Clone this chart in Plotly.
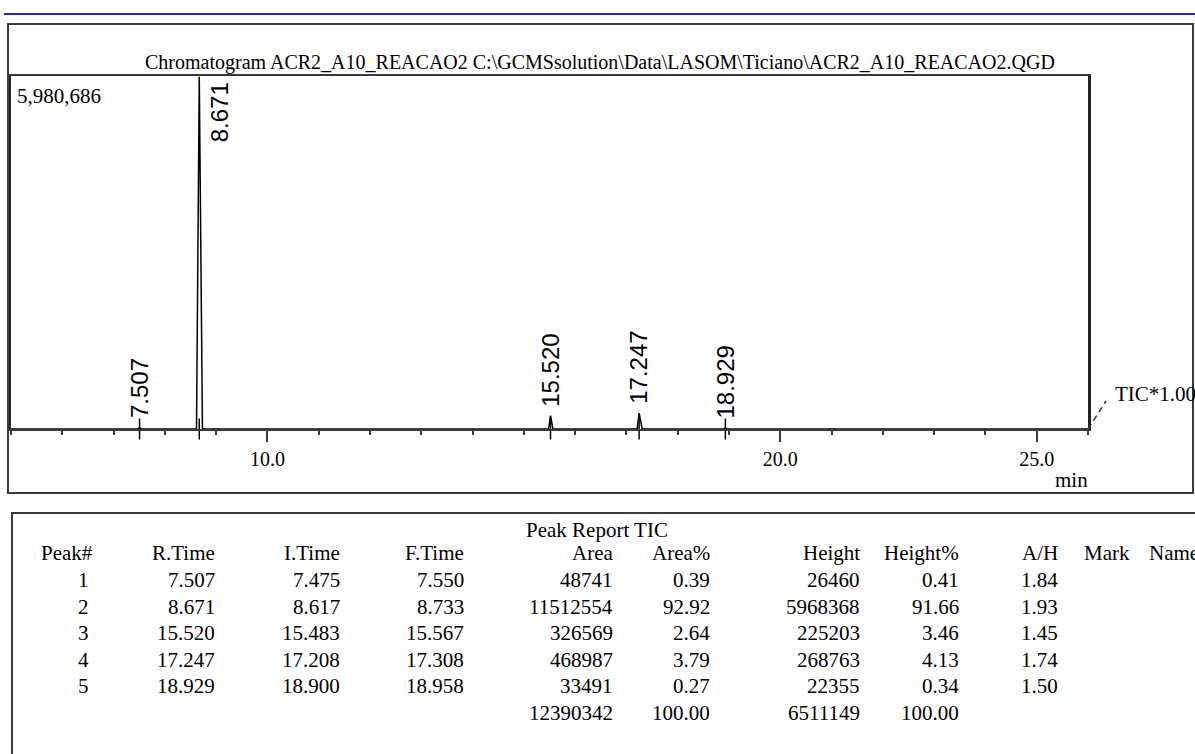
import plotly.graph_objects as go

# ---------------- data ----------------
chart_title = "Chromatogram ACR2_A10_REACAO2 C:\\GCMSsolution\\Data\\LASOM\\Ticiano\\ACR2_A10_REACAO2.QGD"
y_max = 5980686
x_start, x_end = 5.0, 26.0
major_ticks = [10.0, 20.0, 25.0]
major_tick_text = ["10.0", "20.0", "25.0"]

peak_no = [1, 2, 3, 4, 5]
r_time = [7.507, 8.671, 15.520, 17.247, 18.929]
i_time = [7.475, 8.617, 15.483, 17.208, 18.900]
f_time = [7.550, 8.733, 15.567, 17.308, 18.958]
area = [48741, 11512554, 326569, 468987, 33491]
area_pct = [0.39, 92.92, 2.64, 3.79, 0.27]
height = [26460, 5968368, 225203, 268763, 22355]
height_pct = [0.41, 91.66, 3.46, 4.13, 0.34]
a_over_h = [1.84, 1.93, 1.45, 1.74, 1.50]
area_total = 12390342
area_pct_total = 100.00
height_total = 6511149
height_pct_total = 100.00

W, H = 1195, 754


def px(x):
    return x / W


def py(y):
    return 1 - y / H


# chromatogram trace from the peak table (start, apex, end of each peak)
tic_x = [x_start]
tic_y = [0]
for it, rt, ft, h in zip(i_time, r_time, f_time, height):
    tic_x += [it, rt, ft]
    tic_y += [0, h, 0]
tic_x.append(x_end)
tic_y.append(0)

fig = go.Figure()
fig.add_trace(go.Scatter(x=tic_x, y=tic_y, mode="lines",
                         line=dict(color="black", width=1.5), hoverinfo="skip"))
# peak markers on the baseline
fig.add_trace(go.Scatter(x=r_time, y=[0] * len(r_time), mode="markers",
                         marker=dict(symbol="line-ns-open", size=15, color="black",
                                     line=dict(color="black", width=1.5)),
                         cliponaxis=False, hoverinfo="skip"))

serif = "Liberation Serif"
sans = "Liberation Sans"
dark = "#3a3a3a"

plot_left, plot_right, plot_top, plot_bottom = 11, 1088, 76, 429

fig.update_layout(
    width=W, height=H,
    margin=dict(l=0, r=0, t=0, b=0),
    paper_bgcolor="white", plot_bgcolor="white",
    showlegend=False,
    xaxis=dict(domain=[px(plot_left), px(plot_right)], range=[x_start, x_end],
               showgrid=False, zeroline=False,
               showline=True, linecolor=dark, linewidth=2, mirror=True,
               tickmode="array", tickvals=major_ticks, ticktext=major_tick_text,
               ticks="outside", ticklen=11, tickwidth=1.5, tickcolor=dark,
               tickfont=dict(family=serif, size=20, color="black"),
               minor=dict(dtick=1, tick0=0, ticks="outside", ticklen=4,
                          tickwidth=1.5, tickcolor=dark, showgrid=False)),
    yaxis=dict(domain=[py(plot_bottom), py(plot_top)], range=[0, y_max],
               showgrid=False, zeroline=False, showticklabels=False, ticks="",
               showline=True, linecolor="#222222", linewidth=2.5, mirror=True),
)

shapes = [
    # blue rule at top
    dict(type="line", xref="paper", yref="paper", x0=px(4), x1=1.0, y0=py(14), y1=py(14),
         line=dict(color="#28289a", width=2)),
    # outer chart frame
    dict(type="rect", xref="paper", yref="paper", x0=px(8), x1=px(1193), y0=py(24), y1=py(493),
         line=dict(color=dark, width=2)),
    # table frame (runs off the page)
    dict(type="rect", xref="paper", yref="paper", x0=px(12), x1=px(1230), y0=py(513), y1=py(800),
         line=dict(color=dark, width=2)),
    # dashed leader to TIC label
    dict(type="line", xref="paper", yref="paper", x0=px(1088), x1=px(1106), y0=py(429), y1=py(401),
         line=dict(color=dark, width=1.5, dash="6px,4px")),
]
fig.update_layout(shapes=shapes)

ann = []


def text(x, y, s, size=20, anchor="center", family=serif):
    ann.append(dict(xref="paper", yref="paper", x=px(x), y=py(y), text=s, showarrow=False,
                    xanchor=anchor, yanchor="middle",
                    font=dict(family=family, size=size, color="black")))


text(600, 62, chart_title, size=20)
text(15, 96, "5,980,686", size=21, anchor="left")
text(1113, 394, "TIC*1.00", size=21, anchor="left")
text(1071, 480, "min", size=21)

# peak labels (rotated)
for rt, h in zip(r_time, height):
    lab = f"{rt:.3f}"
    if h > 0.5 * y_max:
        ann.append(dict(xref="x", yref="paper", x=rt, y=py(plot_top), text=lab, showarrow=False,
                        textangle=-90, xanchor="center", yanchor="top", xshift=20, yshift=-4,
                        font=dict(family=sans, size=24, color="black")))
    else:
        ann.append(dict(xref="x", yref="y", x=rt, y=h, text=lab, showarrow=False,
                        textangle=-90, xanchor="center", yanchor="bottom", yshift=7,
                        font=dict(family=sans, size=24, color="black")))

# peak report table
tsize = 21
text(597, 530, "Peak Report TIC", size=tsize)
col_right = {"Peak#": 95, "R.Time": 217, "I.Time": 342, "F.Time": 466, "Area": 615,
             "Area%": 712, "Height": 862, "Height%": 961, "A/H": 1060}
for name, xr in col_right.items():
    text(xr, 553, name, size=tsize, anchor="right")
text(1082, 553, "Mark", size=tsize, anchor="left")
text(1147, 553, "Name", size=tsize, anchor="left")

row_y = [580, 606.5, 633, 659.5, 686]
for i, yy in enumerate(row_y):
    vals = [str(peak_no[i]), f"{r_time[i]:.3f}", f"{i_time[i]:.3f}", f"{f_time[i]:.3f}",
            str(area[i]), f"{area_pct[i]:.2f}", str(height[i]), f"{height_pct[i]:.2f}",
            f"{a_over_h[i]:.2f}"]
    for (name, xr), v in zip(col_right.items(), vals):
        xx = xr - 4 if name == "Peak#" else xr
        text(xx, yy, v, size=tsize, anchor="right")
total_y = 712.5
text(col_right["Area"], total_y, str(area_total), size=tsize, anchor="right")
text(col_right["Area%"], total_y, f"{area_pct_total:.2f}", size=tsize, anchor="right")
text(col_right["Height"], total_y, str(height_total), size=tsize, anchor="right")
text(col_right["Height%"], total_y, f"{height_pct_total:.2f}", size=tsize, anchor="right")

fig.update_layout(annotations=ann)
fig.write_html("out.html", config={"displayModeBar": False},
               post_script="document.body.style.margin='0';document.body.style.overflow='hidden';")
